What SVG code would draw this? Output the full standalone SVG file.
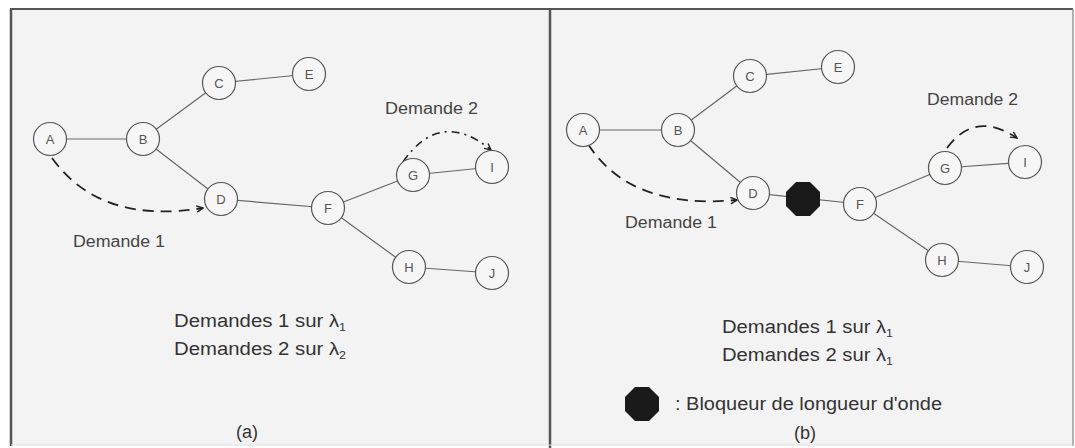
<svg xmlns="http://www.w3.org/2000/svg" width="1075" height="448" viewBox="0 0 1075 448">
<defs>
<style>
.nd circle{fill:#f6f6f6;stroke:#555;stroke-width:1.2}
.nd text{font-family:"Liberation Sans",Arial,sans-serif;font-size:13px;fill:#555;text-anchor:middle;dominant-baseline:central}
.ln{stroke:#666;stroke-width:1.2;fill:none}
.dm{stroke:#222;stroke-width:1.8;fill:none;stroke-dasharray:11,7}
.dd{stroke:#222;stroke-width:1.6;fill:none;stroke-dasharray:8,5,2,5}
.lbl{font-family:"Liberation Sans",Arial,sans-serif;font-size:16px;fill:#444}
.big{font-family:"Liberation Sans",Arial,sans-serif;font-size:18px;fill:#333}
.blk{fill:#1a1a1a}
</style>
<marker id="ah" viewBox="0 0 10 10" refX="9" refY="5" markerWidth="8" markerHeight="8" orient="auto" markerUnits="userSpaceOnUse">
<path d="M1,1 L9,5 L1,9" fill="none" stroke="#222" stroke-width="1.8"/>
</marker>
</defs>
<rect x="0" y="0" width="1075" height="448" fill="#ffffff"/>
<rect x="11" y="9" width="539" height="436" fill="#f3f3f3"/>
<rect x="550" y="9" width="523" height="436" fill="#f3f3f3"/>
<g id="frame" stroke="#555" fill="none">
<line x1="10" y1="9" x2="1073" y2="9" stroke-width="2"/>
<line x1="11" y1="9" x2="11" y2="446" stroke-width="2.5"/>
<line x1="550" y1="9" x2="550" y2="448" stroke-width="2.5"/>
<line x1="1073" y1="9" x2="1073" y2="446" stroke="#999" stroke-width="1.5"/>
<line x1="11" y1="445" x2="1073" y2="445" stroke="#ddd" stroke-width="1"/>
</g>
<g id="connectors">
<line class="ln" x1="50" y1="139" x2="143" y2="139"/>
<line class="ln" x1="143" y1="139" x2="219" y2="83"/>
<line class="ln" x1="219" y1="83" x2="309" y2="74"/>
<line class="ln" x1="143" y1="139" x2="221" y2="199"/>
<line class="ln" x1="221" y1="199" x2="328" y2="208"/>
<line class="ln" x1="328" y1="208" x2="413" y2="175"/>
<line class="ln" x1="413" y1="175" x2="492" y2="167"/>
<line class="ln" x1="328" y1="208" x2="409" y2="267"/>
<line class="ln" x1="409" y1="267" x2="492" y2="273"/>
<path class="dm" d="M52,158 Q100,225 203,208" marker-end="url(#ah)"/>
<path class="dd" d="M403,162 Q440,108 491,150" marker-end="url(#ah)"/>
<line class="ln" x1="583" y1="130" x2="678" y2="130"/>
<line class="ln" x1="678" y1="130" x2="750" y2="76"/>
<line class="ln" x1="750" y1="76" x2="838" y2="67"/>
<line class="ln" x1="678" y1="130" x2="753" y2="193"/>
<line class="ln" x1="753" y1="193" x2="860" y2="204"/>
<line class="ln" x1="860" y1="204" x2="945" y2="168"/>
<line class="ln" x1="945" y1="168" x2="1025" y2="162"/>
<line class="ln" x1="860" y1="204" x2="942" y2="260"/>
<line class="ln" x1="942" y1="260" x2="1027" y2="267"/>
<path class="dm" d="M588,144 Q630,210 737,200" marker-end="url(#ah)"/>
<path class="dm" d="M947,148 Q975,110 1017,138" marker-end="url(#ah)"/>
</g>
<g id="a-A" class="nd"><circle cx="50" cy="139" r="16.5"/><text x="50" y="139">A</text></g>
<g id="a-B" class="nd"><circle cx="143" cy="139" r="16.5"/><text x="143" y="139">B</text></g>
<g id="a-C" class="nd"><circle cx="219" cy="83" r="16.5"/><text x="219" y="83">C</text></g>
<g id="a-E" class="nd"><circle cx="309" cy="74" r="16.5"/><text x="309" y="74">E</text></g>
<g id="a-D" class="nd"><circle cx="221" cy="199" r="16.5"/><text x="221" y="199">D</text></g>
<g id="a-F" class="nd"><circle cx="328" cy="208" r="16.5"/><text x="328" y="208">F</text></g>
<g id="a-G" class="nd"><circle cx="413" cy="175" r="16.5"/><text x="413" y="175">G</text></g>
<g id="a-I" class="nd"><circle cx="492" cy="167" r="16.5"/><text x="492" y="167">I</text></g>
<g id="a-H" class="nd"><circle cx="409" cy="267" r="16.5"/><text x="409" y="267">H</text></g>
<g id="a-J" class="nd"><circle cx="492" cy="273" r="16.5"/><text x="492" y="273">J</text></g>
<g id="a-labels">
<text class="lbl" x="385" y="114" textLength="93" lengthAdjust="spacingAndGlyphs">Demande 2</text>
<text class="lbl" x="73" y="247" textLength="92" lengthAdjust="spacingAndGlyphs">Demande 1</text>
<text class="big" x="174" y="327" textLength="172" lengthAdjust="spacingAndGlyphs">Demandes 1 sur λ<tspan font-size="11" dy="4">1</tspan></text>
<text class="big" x="174" y="355" textLength="172" lengthAdjust="spacingAndGlyphs">Demandes 2 sur λ<tspan font-size="11" dy="4">2</tspan></text>
<text class="big" x="247" y="438" text-anchor="middle" font-size="16">(a)</text>
</g>
<g id="b-A" class="nd"><circle cx="583" cy="130" r="16.5"/><text x="583" y="130">A</text></g>
<g id="b-B" class="nd"><circle cx="678" cy="130" r="16.5"/><text x="678" y="130">B</text></g>
<g id="b-C" class="nd"><circle cx="750" cy="76" r="16.5"/><text x="750" y="76">C</text></g>
<g id="b-E" class="nd"><circle cx="838" cy="67" r="16.5"/><text x="838" y="67">E</text></g>
<g id="b-D" class="nd"><circle cx="753" cy="193" r="16.5"/><text x="753" y="193">D</text></g>
<g id="b-block"><polygon class="blk" points="796,182 810,182 820,192 820,206 810,216 796,216 786,206 786,192"/></g>
<g id="b-F" class="nd"><circle cx="860" cy="204" r="16.5"/><text x="860" y="204">F</text></g>
<g id="b-G" class="nd"><circle cx="945" cy="168" r="16.5"/><text x="945" y="168">G</text></g>
<g id="b-I" class="nd"><circle cx="1025" cy="162" r="16.5"/><text x="1025" y="162">I</text></g>
<g id="b-H" class="nd"><circle cx="942" cy="260" r="16.5"/><text x="942" y="260">H</text></g>
<g id="b-J" class="nd"><circle cx="1027" cy="267" r="16.5"/><text x="1027" y="267">J</text></g>
<g id="b-labels">
<text class="lbl" x="927" y="105" textLength="91" lengthAdjust="spacingAndGlyphs">Demande 2</text>
<text class="lbl" x="625" y="228" textLength="92" lengthAdjust="spacingAndGlyphs">Demande 1</text>
<text class="big" x="722" y="333" textLength="171" lengthAdjust="spacingAndGlyphs">Demandes 1 sur λ<tspan font-size="11" dy="4">1</tspan></text>
<text class="big" x="722" y="361" textLength="171" lengthAdjust="spacingAndGlyphs">Demandes 2 sur λ<tspan font-size="11" dy="4">1</tspan></text>
<polygon class="blk" points="635,387 649,387 659,397 659,411 649,421 635,421 625,411 625,397"/>
<text class="big" x="675" y="410" textLength="267" lengthAdjust="spacingAndGlyphs">: Bloqueur de longueur d'onde</text>
<text class="big" x="805" y="439" text-anchor="middle" font-size="16">(b)</text>
</g>
</svg>
